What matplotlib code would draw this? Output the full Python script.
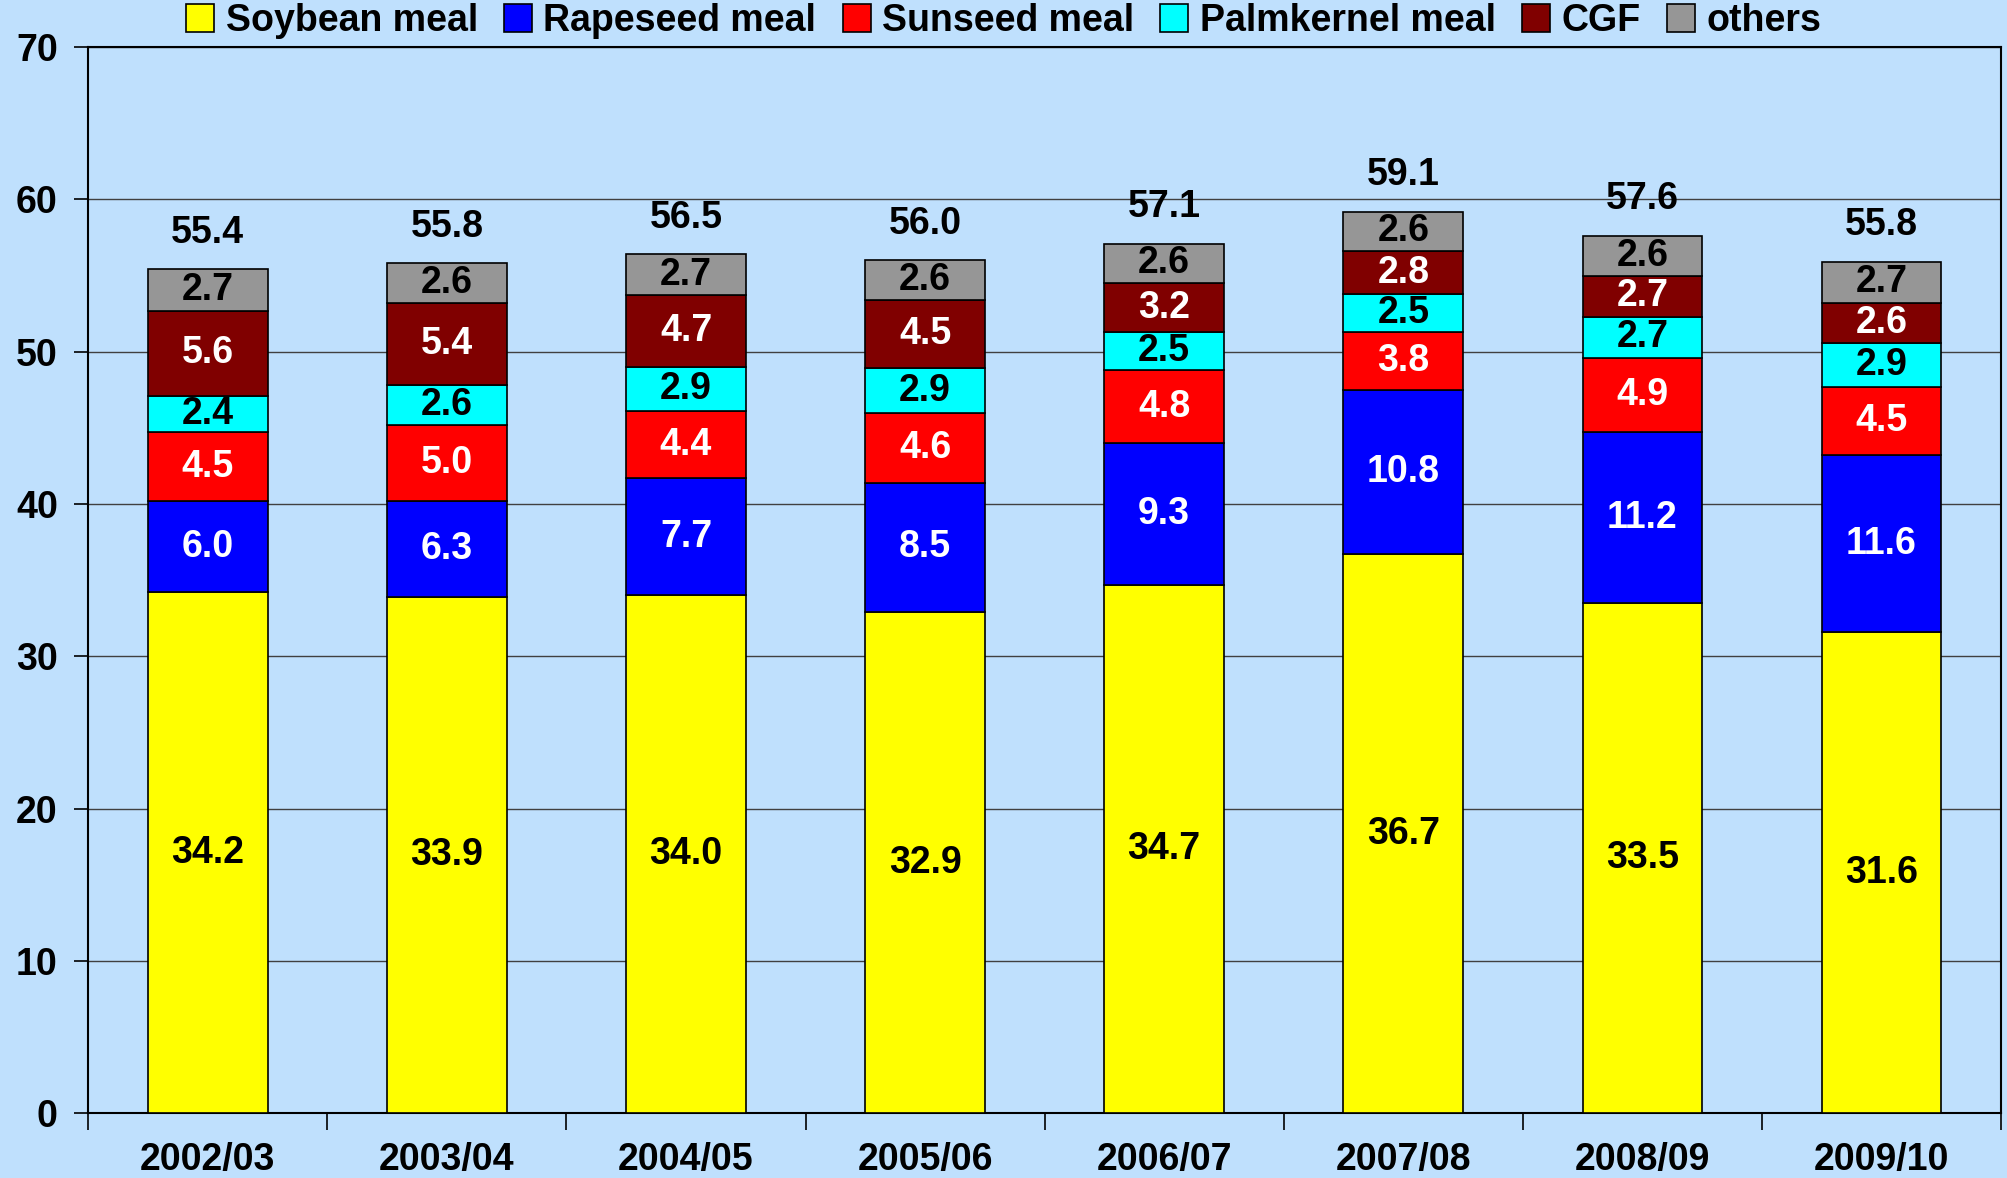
import numpy as np
import matplotlib
matplotlib.use("Agg")
import matplotlib.pyplot as plt

plt.rcParams['font.family'] = ['Liberation Sans', 'DejaVu Sans']
plt.rcParams['font.weight'] = 'bold'

# data (million t)
years = ['2002/03', '2003/04', '2004/05', '2005/06', '2006/07', '2007/08', '2008/09', '2009/10']
soybean = [34.2, 33.9, 34.0, 32.9, 34.7, 36.7, 33.5, 31.6]
rapeseed = [6.0, 6.3, 7.7, 8.5, 9.3, 10.8, 11.2, 11.6]
sunseed = [4.5, 5.0, 4.4, 4.6, 4.8, 3.8, 4.9, 4.5]
palmkernel = [2.4, 2.6, 2.9, 2.9, 2.5, 2.5, 2.7, 2.9]
cgf = [5.6, 5.4, 4.7, 4.5, 3.2, 2.8, 2.7, 2.6]
others = [2.7, 2.6, 2.7, 2.6, 2.6, 2.6, 2.6, 2.7]
totals = [55.4, 55.8, 56.5, 56.0, 57.1, 59.1, 57.6, 55.8]

series = [
    ('Soybean meal', soybean, '#FFFF00', 'black'),
    ('Rapeseed meal', rapeseed, '#0000FF', 'white'),
    ('Sunseed meal', sunseed, '#FF0000', 'white'),
    ('Palmkernel meal', palmkernel, '#00FFFF', 'black'),
    ('CGF', cgf, '#800000', 'white'),
    ('others', others, '#969696', 'black'),
]

fs = 27
bg = '#BFE0FD'
fig = plt.figure(figsize=(20.07, 11.78), dpi=100, facecolor=bg)
ax = fig.add_axes([0.044, 0.055, 0.953, 0.905], facecolor=bg)

x = np.arange(len(years))
bottom = np.zeros(len(years))
for name, vals, col, tcol in series:
    vals = np.array(vals)
    ax.bar(x, vals, 0.5, bottom=bottom, color=col, edgecolor='black', linewidth=1.2, label=name, zorder=3)
    for xi, b, v in zip(x, bottom, vals):
        ax.text(xi, b + v / 2, '%.1f' % v, ha='center', va='center', color=tcol,
                fontsize=fs, fontweight='bold', zorder=4)
    bottom = bottom + vals

for xi, top, t in zip(x, bottom, totals):
    ax.text(xi, top + 2.4, '%.1f' % t, ha='center', va='center', fontsize=fs, fontweight='bold')

ax.set_xlim(-0.5, len(years) - 0.5)
ax.set_ylim(0, 70)
ax.set_yticks(np.arange(0, 71, 10))
ax.yaxis.grid(True, color='#404040', linewidth=1.0, zorder=0)
ax.set_axisbelow(True)

ax.set_xticks(x)
ax.set_xticklabels(years, fontsize=fs, fontweight='bold')
ax.set_xticks(np.arange(-0.5, len(years), 1), minor=True)
ax.tick_params(axis='x', which='major', length=0, pad=21)
ax.tick_params(axis='x', which='minor', length=12, width=1.2, direction='out')
ax.tick_params(axis='y', labelsize=fs, length=10, width=1.2, pad=12)
for lab in ax.get_yticklabels():
    lab.set_fontweight('bold')

for s in ax.spines.values():
    s.set_linewidth(1.5)
    s.set_color('black')

fig.legend(loc='upper center', bbox_to_anchor=(0.5, 1.026), ncol=6, frameon=False,
           handlelength=0.75, handleheight=0.75, handletextpad=0.3,
           columnspacing=0.7, prop={'weight': 'bold', 'size': fs})

fig.savefig('out.png', dpi=100, facecolor=bg)
